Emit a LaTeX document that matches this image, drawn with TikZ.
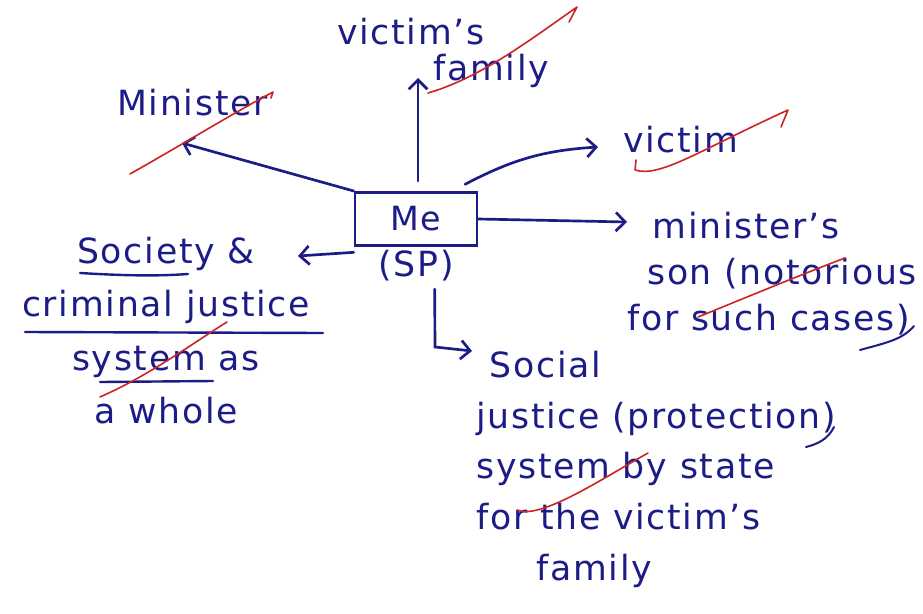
\documentclass[tikz,border=0pt]{standalone}
\usepackage{fontspec}
\setmainfont{DejaVu Sans}
\newfontfamily\handfont{DejaVu Sans}[LetterSpace=5]
\usetikzlibrary{arrows.meta}
\definecolor{ink}{RGB}{28,28,135}
\definecolor{redink}{RGB}{205,35,35}
\begin{document}
\begin{tikzpicture}[x=0.75pt,y=-0.75pt,
  hand/.style={text=ink, inner sep=0pt, anchor=north west, align=left},
  link/.style={draw=ink, line width=2pt, line cap=round,
    -{Straight Barb[length=7pt,width=14pt,line width=2pt]}},
  strike/.style={draw=redink, line width=1.2pt, line cap=round, line join=round},
  uline/.style={draw=ink, line width=1.8pt, line cap=round}]
\useasboundingbox (0,0) rectangle (923,613);
\fill[white] (0,0) rectangle (923,613);

% central box and its label
\node (me) [draw=ink, line width=2pt, minimum width=91.5pt, minimum height=40pt,
  text=ink, font=\handfont\fontsize{25}{26}\selectfont] at (416,219) {Me};
\node (sp) [text=ink, inner sep=1pt, font=\handfont\fontsize{26}{27}\selectfont] at (416,266) {(SP)};

% stakeholders
\node (vfam) [hand, font=\handfont\fontsize{26}{27}\selectfont] at (337,18)
  {victim’s\\\hspace*{72pt}family};
\node (minister) [hand, font=\handfont\fontsize{26}{27}\selectfont] at (117,89) {Minister};
\node (victim) [hand, font=\handfont\fontsize{26}{27}\selectfont] at (623,126) {victim};
\node (son) [hand, font=\handfont\fontsize{26}{34.5}\selectfont] at (627,212)
  {\hspace*{19pt}minister’s\\\hspace*{15pt}son (notorious\\for such cases)};
\node (society) [hand, anchor=north, align=center, font=\handfont\fontsize{26}{40}\selectfont] at (166,237)
  {Society \&\\criminal justice\\system as\\a whole};
\node (social) [hand, font=\handfont\fontsize{26}{38}\selectfont] at (476,351)
  {\hspace*{10pt}Social\\justice (protection)\\system by state\\for the victim’s\\\hspace*{45pt}family};

% arrow tips
\coordinate (tUp) at (418,78);
\coordinate (tMin) at (182,143);
\coordinate (tVic) at (598,147);
\coordinate (tSon) at (627,222);
\coordinate (tSoc) at (298,256);
\coordinate (bend) at (435,347);
\coordinate (tSocial) at (472,351);

% connectors
\draw[link] ([xshift=1.5pt]me.north) ++(0,-10) -- (tUp);
\draw[link] (me.north west) -- (tMin);
\draw[link] ([xshift=-10pt,yshift=5pt]me.north east) to[bend left=12] (tVic);
\draw[link] (me.east) -- (tSon);
\draw[link] ([yshift=-4pt]me.south west) -- (tSoc);
\draw[link] ([xshift=14pt]sp.south) ++(0,6) -- (bend) -- (tSocial);

% underlines
\draw[uline] (80,273) .. controls (130,276) and (160,276) .. (188,274);
\draw[uline] (25,332) -- (323,333);
\draw[uline] (100,382) -- (213,381);

% tails of the closing brackets
\draw[uline, line width=1.5pt] (914,326) .. controls (902,340) and (885,343) .. (860,350);
\draw[uline, line width=1.5pt] (834,427) .. controls (828,439) and (818,444) .. (806,447);

% red strokes
\draw[strike] (130,174) .. controls (190,140) and (230,115) .. (273,92) -- (271,98);
\draw[strike] (428,93) .. controls (480,78) and (530,40) .. (577,7) -- (569,22);
\draw[strike] (636,160) -- (635,170) .. controls (660,178) and (700,150) .. (788,110) -- (781,127);
\draw[strike] (698,317) .. controls (740,300) and (800,275) .. (845,258);
\draw[strike] (100,397) .. controls (150,375) and (190,345) .. (227,322);
\draw[strike] (517,510) .. controls (540,520) and (600,480) .. (648,453);
\end{tikzpicture}
\end{document}
